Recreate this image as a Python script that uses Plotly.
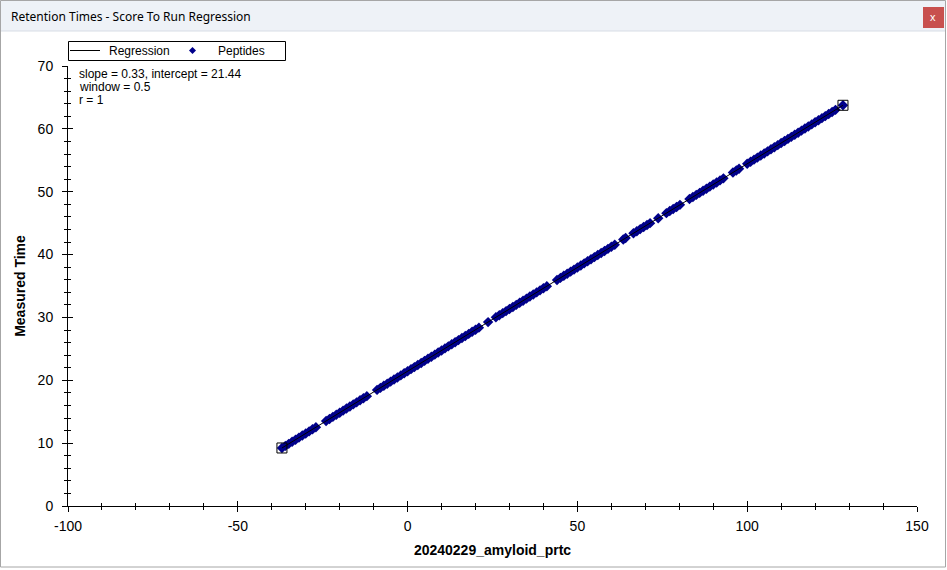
import plotly.graph_objects as go

# ---------------- data ----------------
pep_x = [-37, -36, -35, -34, -33, -32, -31, -30, -29, -28, -27,
         -24, -23, -22, -21, -20, -19, -18, -17, -16, -15, -14, -13, -12,
         -9, -8, -7, -6, -5, -4, -3, -2, -1, 0, 1, 2, 3, 4, 5, 6, 7, 8, 9, 10,
         11, 12, 13, 14, 15, 16, 17, 18, 19, 20, 21,
         23.7,
         26, 27, 28, 29, 30, 31, 32, 33, 34, 35, 36, 37, 38, 39, 40, 41,
         44, 45, 46, 47, 48, 49, 50, 51, 52, 53, 54, 55, 56, 57, 58, 59, 60, 61,
         63.5, 64.2,
         66.5, 67.5, 68.5, 69.5, 70.5, 71.4,
         73.8,
         76.2, 77.2, 78.2, 79.2, 80.2,
         83, 84, 85, 86, 87, 88, 89, 90, 91, 92, 93,
         95.8, 96.8, 97.6,
         100, 101, 102, 103, 104, 105, 106, 107, 108, 109, 110, 111, 112, 113,
         114, 115, 116, 117, 118, 119, 120, 121, 122, 123, 124, 125, 126,
         128.2]
pep_y = [9.23, 9.56, 9.89, 10.22, 10.55, 10.88, 11.21, 11.54, 11.87, 12.20, 12.53,
         13.52, 13.85, 14.18, 14.51, 14.84, 15.17, 15.50, 15.83, 16.16, 16.49, 16.82, 17.15, 17.48,
         18.47, 18.80, 19.13, 19.46, 19.79, 20.12, 20.45, 20.78, 21.11, 21.44, 21.77, 22.10,
         22.43, 22.76, 23.09, 23.42, 23.75, 24.08, 24.41, 24.74,
         25.07, 25.40, 25.73, 26.06, 26.39, 26.72, 27.05, 27.38, 27.71, 28.04, 28.37,
         29.26,
         30.02, 30.35, 30.68, 31.01, 31.34, 31.67, 32.00, 32.33, 32.66, 32.99, 33.32, 33.65,
         33.98, 34.31, 34.64, 34.97,
         35.96, 36.29, 36.62, 36.95, 37.28, 37.61, 37.94, 38.27, 38.60, 38.93, 39.26, 39.59,
         39.92, 40.25, 40.58, 40.91, 41.24, 41.57,
         42.40, 42.63,
         43.39, 43.72, 44.05, 44.38, 44.71, 45.00,
         45.79,
         46.59, 46.92, 47.25, 47.58, 47.91,
         48.83, 49.16, 49.49, 49.82, 50.15, 50.48, 50.81, 51.14, 51.47, 51.80, 52.13,
         53.05, 53.38, 53.65,
         54.44, 54.77, 55.10, 55.43, 55.76, 56.09, 56.42, 56.75, 57.08, 57.41, 57.74, 58.07,
         58.40, 58.73, 59.06, 59.39, 59.72, 60.05, 60.38, 60.71, 61.04, 61.37, 61.70, 62.03,
         62.36, 62.69, 63.02,
         63.75]

reg_x = [-37.0, 128.2]
reg_y = [9.23, 63.75]

highlight_x = [-37.0, 128.2]
highlight_y = [9.23, 63.75]

x_tick_vals = [-100, -50, 0, 50, 100, 150]
x_tick_text = ["-100", "-50", "0", "50", "100", "150"]
y_tick_vals = [0, 10, 20, 30, 40, 50, 60, 70]
y_tick_text = ["0", "10", "20", "30", "40", "50", "60", "70"]

legend_names = ["Regression", "Peptides"]
stats_lines = ["slope = 0.33, intercept = 21.44", "window = 0.5", "r = 1"]

window_title = "Retention Times - Score To Run Regression"
x_title = "20240229_amyloid_prtc"
y_title = "Measured Time"

PEP_COLOR = "#00008B"

# ---------------- layout helpers ----------------
W, H = 947, 570
L, R, T, B = 68, 30, 66, 64
PW, PH = W - L - R, H - T - B


def xp(px):
    return (px - L) / PW


def yp(py):
    return (H - B - py) / PH


FONT = "Liberation Sans, Arial, sans-serif"

fig = go.Figure()

fig.add_trace(go.Scatter(
    x=pep_x, y=pep_y, mode="markers", name=legend_names[1],
    marker=dict(symbol="diamond", size=8, color=PEP_COLOR, line=dict(width=0)),
    showlegend=False))

fig.add_trace(go.Scatter(
    x=reg_x, y=reg_y, mode="lines", name=legend_names[0],
    line=dict(color="black", width=1), showlegend=False))

fig.add_trace(go.Scatter(
    x=highlight_x, y=highlight_y, mode="markers", showlegend=False,
    marker=dict(symbol="square-open", size=10, color="black", line=dict(width=1))))

# empty trace for the overlay axes (inner halves of crossing ticks)
fig.add_trace(go.Scatter(x=[], y=[], xaxis="x2", yaxis="y2", showlegend=False))

axis_common = dict(showgrid=False, zeroline=False, showline=True, linecolor="black",
                   linewidth=1, ticks="outside", ticklen=5, tickcolor="black",
                   tickwidth=1, tickfont=dict(family=FONT, size=14, color="black"),
                   mirror=False, fixedrange=True, tickmode="array", automargin=False)

fig.update_layout(
    width=W, height=H, autosize=False,
    margin=dict(l=L, r=R, t=T, b=B, pad=0, autoexpand=False),
    paper_bgcolor="white", plot_bgcolor="white",
    font=dict(family=FONT, size=12, color="black"),
    showlegend=False,
    xaxis=dict(range=[-100, 150], tickvals=x_tick_vals, ticktext=x_tick_text,
               minor=dict(tick0=0, dtick=10, ticks="outside", ticklen=3, tickcolor="black", showgrid=False),
               title=dict(text="<b>%s</b>" % x_title, font=dict(family=FONT, size=14), standoff=12),
               ticklabelstandoff=2,
               **axis_common),
    yaxis=dict(range=[0, 70], tickvals=y_tick_vals, ticktext=y_tick_text,
               minor=dict(tick0=0, dtick=2, ticks="outside", ticklen=3, tickcolor="black", showgrid=False),
               title=dict(text="<b>%s</b>" % y_title, font=dict(family=FONT, size=14), standoff=8),
               ticklabelstandoff=6,
               **axis_common),
    xaxis2=dict(range=[-100, 150], tickmode="array", tickvals=x_tick_vals, overlaying="x", anchor="y2",
                showgrid=False, zeroline=False, showline=False, showticklabels=False,
                ticks="inside", ticklen=5, tickcolor="black", tickwidth=1, fixedrange=True,
                automargin=False,
                minor=dict(tick0=0, dtick=10, ticks="inside", ticklen=3, tickcolor="black", showgrid=False)),
    yaxis2=dict(range=[0, 70], tickmode="array", tickvals=y_tick_vals, overlaying="y", anchor="x2", side="left",
                showgrid=False, zeroline=False, showline=False, showticklabels=False,
                ticks="inside", ticklen=5, tickcolor="black", tickwidth=1, fixedrange=True,
                automargin=False,
                minor=dict(tick0=0, dtick=2, ticks="inside", ticklen=3, tickcolor="black", showgrid=False)),
)

# window frame, title bar, and legend box
dcx, dcy, dh = 192.5, 50.5, 3.5
diamond_path = "M %f %f L %f %f L %f %f L %f %f Z" % (
    xp(dcx), yp(dcy - dh), xp(dcx + dh), yp(dcy), xp(dcx), yp(dcy + dh), xp(dcx - dh), yp(dcy))

shapes = [
    dict(type="rect", xref="paper", yref="paper", x0=xp(0), x1=xp(946), y0=yp(0), y1=yp(31),
         fillcolor="#eef2f7", line=dict(width=0), layer="below"),
    dict(type="line", xref="paper", yref="paper", x0=xp(0), x1=xp(946), y0=yp(31), y1=yp(31),
         line=dict(color="#d8dde5", width=1)),
    dict(type="rect", xref="paper", yref="paper", x0=xp(923), x1=xp(944), y0=yp(7), y1=yp(28),
         fillcolor="#c8504e", line=dict(width=0)),
    dict(type="rect", xref="paper", yref="paper", x0=xp(0.5), x1=xp(945.5), y0=yp(0.5), y1=yp(567),
         line=dict(color="#a6a6a6", width=1), fillcolor="rgba(0,0,0,0)"),
    # legend
    dict(type="rect", xref="paper", yref="paper", x0=xp(68.5), x1=xp(285.5), y0=yp(41.5), y1=yp(60.5),
         line=dict(color="black", width=1), fillcolor="white"),
    dict(type="line", xref="paper", yref="paper", x0=xp(70), x1=xp(100), y0=yp(50.5), y1=yp(50.5),
         line=dict(color="black", width=1)),
    dict(type="path", xref="paper", yref="paper", path=diamond_path,
         fillcolor=PEP_COLOR, line=dict(width=0)),
]
fig.update_layout(shapes=shapes)

ann = [
    dict(text=window_title, xref="paper", yref="paper", x=xp(9), y=yp(16),
         xanchor="left", yanchor="middle", showarrow=False,
         font=dict(family="Noto Sans, " + FONT, size=12, color="black")),
    dict(text="x", xref="paper", yref="paper", x=xp(933.5), y=yp(17),
         xanchor="center", yanchor="middle", showarrow=False,
         font=dict(family=FONT, size=11, color="white")),
    dict(text=legend_names[0], xref="paper", yref="paper", x=xp(107), y=yp(51),
         xanchor="left", yanchor="middle", showarrow=False,
         font=dict(family=FONT, size=12, color="black")),
    dict(text=legend_names[1], xref="paper", yref="paper", x=xp(216), y=yp(51),
         xanchor="left", yanchor="middle", showarrow=False,
         font=dict(family=FONT, size=12, color="black")),
]
for i, line in enumerate(stats_lines):
    ann.append(dict(text=line, xref="paper", yref="paper", x=xp(77), y=yp(74 + 13 * i),
                    xanchor="left", yanchor="middle", showarrow=False,
                    font=dict(family=FONT, size=12, color="black")))
fig.update_layout(annotations=ann)

fig.write_html("out.html", config={"displayModeBar": False},
               post_script="document.body.style.margin='0';document.body.style.padding='0';")
